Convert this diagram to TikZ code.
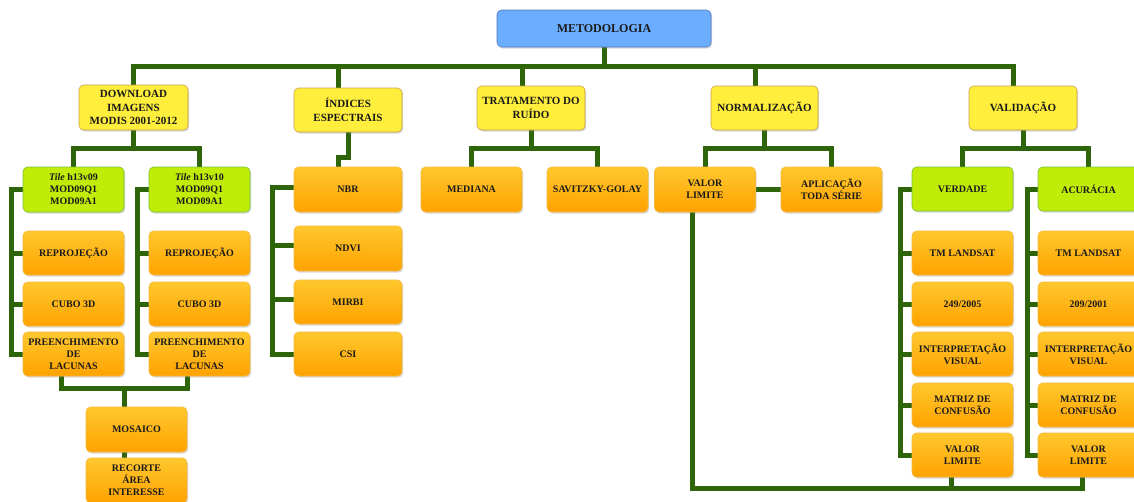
\documentclass[tikz,border=0pt]{standalone}
\usepackage{fontspec}
\setmainfont{Liberation Serif}
\usetikzlibrary{shadows,calc}
\pgfdeclarelayer{background}
\pgfsetlayers{background,main}
\definecolor{lnkc}{HTML}{2E640A}
\definecolor{txt}{HTML}{1A1A1A}
\definecolor{orat}{HTML}{FFC82E}
\definecolor{orabot}{HTML}{FFA200}
\definecolor{orab}{HTML}{F4BA40}
\definecolor{yelf}{HTML}{FFEE3B}
\definecolor{yelb}{HTML}{C8A050}
\definecolor{bluf}{HTML}{6BAEFF}
\definecolor{blub}{HTML}{5577BB}
\definecolor{grnf}{HTML}{C0EC08}
\definecolor{grnb}{HTML}{7BBF3A}
\tikzset{
 bx/.style={rounded corners=4.5pt, align=center, inner sep=1pt, text=txt,
   font=\bfseries\fontsize{10}{12}\selectfont,
   drop shadow={shadow xshift=1.2pt,shadow yshift=-1.5pt,opacity=0.3}},
 ora/.style={bx, draw=orab, line width=0.6pt, top color=orat, bottom color=orabot,
   minimum width=101pt, minimum height=45pt},
 grn/.style={bx, draw=grnb, line width=0.6pt, fill=grnf, minimum width=101pt, minimum height=45pt},
 yel/.style={bx, draw=yelb, line width=0.6pt, fill=yelf, minimum width=108pt, minimum height=44pt,
   font=\bfseries\fontsize{11}{13.5}\selectfont},
 blu/.style={bx, draw=blub, line width=0.6pt, fill=bluf, minimum width=214pt, minimum height=37pt,
   font=\bfseries\fontsize{12}{14}\selectfont},
 lnk/.style={draw=lnkc, line width=5pt},
}
\begin{document}
\begin{tikzpicture}[x=1pt,y=-1pt]
\useasboundingbox (0,0) rectangle (1134,501);
% level 0/1
\node[blu] (meto) at (604,28.5) {METODOLOGIA};
\node[yel, minimum width=109pt, minimum height=45pt] (dl) at (133.5,107.5) {DOWNLOAD\\IMAGENS\\MODIS 2001-2012};
\node[yel] (ind) at (348,110) {ÍNDICES\\ESPECTRAIS};
\node[yel] (trat) at (531,108) {TRATAMENTO DO\\RUÍDO};
\node[yel, minimum width=107pt] (norm) at (764.5,108) {NORMALIZAÇÃO};
\node[yel] (val) at (1023,108) {VALIDAÇÃO};
% download column
\node[grn] (t1) at (73.5,189.5) {\textit{Tile} h13v09\\MOD09Q1\\MOD09A1};
\node[grn] (t2) at (199.5,189.5) {\textit{Tile} h13v10\\MOD09Q1\\MOD09A1};
\node[ora, minimum height=44pt] (r1) at (73.5,253) {REPROJEÇÃO};
\node[ora, minimum height=44pt] (c1) at (73.5,304) {CUBO 3D};
\node[ora, minimum height=44pt] (p1) at (73.5,354) {PREENCHIMENTO\\DE\\LACUNAS};
\node[ora, minimum height=44pt] (r2) at (199.5,253) {REPROJEÇÃO};
\node[ora, minimum height=44pt] (c2) at (199.5,304) {CUBO 3D};
\node[ora, minimum height=44pt] (p2) at (199.5,354) {PREENCHIMENTO\\DE\\LACUNAS};
\node[ora] (mos) at (136.5,429.5) {MOSAICO};
\node[ora] (rec) at (136.5,480.5) {RECORTE\\ÁREA\\INTERESSE};
% indices
\node[ora, minimum width=108pt] (nbr) at (348,189.5) {NBR};
\node[ora, minimum width=108pt] (ndvi) at (348,248.5) {NDVI};
\node[ora, minimum width=108pt, minimum height=44pt] (mirbi) at (348,302) {MIRBI};
\node[ora, minimum width=108pt, minimum height=44pt] (csi) at (348,354) {CSI};
% tratamento
\node[ora] (med) at (471.5,189.5) {MEDIANA};
\node[ora] (sav) at (597.5,189.5) {SAVITZKY-GOLAY};
% normalizacao
\node[ora] (vl) at (705,189.5) {VALOR\\LIMITE};
\node[ora] (apl) at (831.5,189.5) {APLICAÇÃO\\TODA SÉRIE};
% validacao
\node[grn, minimum height=44pt] (ver) at (962.5,189) {VERDADE};
\node[grn, minimum height=44pt] (acu) at (1088.5,189) {ACURÁCIA};
\node[ora, minimum height=44pt] (tm1) at (962.5,253) {TM LANDSAT};
\node[ora, minimum height=44pt] (d1) at (962.5,304) {249/2005};
\node[ora, minimum height=44pt] (iv1) at (962.5,354) {INTERPRETAÇÃO\\VISUAL};
\node[ora, minimum height=44pt] (mc1) at (962.5,405) {MATRIZ DE\\CONFUSÃO};
\node[ora, minimum height=44pt] (vl1) at (962.5,455) {VALOR\\LIMITE};
\node[ora, minimum height=44pt] (tm2) at (1088.5,253) {TM LANDSAT};
\node[ora, minimum height=44pt] (d2) at (1088.5,304) {209/2001};
\node[ora, minimum height=44pt] (iv2) at (1088.5,354) {INTERPRETAÇÃO\\VISUAL};
\node[ora, minimum height=44pt] (mc2) at (1088.5,405) {MATRIZ DE\\CONFUSÃO};
\node[ora, minimum height=44pt] (vl2) at (1088.5,455) {VALOR\\LIMITE};

\begin{pgfonlayer}{background}
\fill[white] (0,0) rectangle (1134,501);
% top bus
\coordinate (yb) at (0,66);
\coordinate (indin) at ($(ind.north)+(-10,0)$);
\coordinate (tratin) at ($(trat.north)+(-9,0)$);
\coordinate (normin) at ($(norm.north)+(-9.5,0)$);
\coordinate (valin) at ($(val.north)+(-10,0)$);
\draw[lnk] (meto.south) -- (meto.south |- yb);
\draw[lnk] (dl.north) -- (dl.north |- yb) -- (valin |- yb) -- (valin);
\draw[lnk] (indin |- yb) -- (indin);
\draw[lnk] (tratin |- yb) -- (tratin);
\draw[lnk] (normin |- yb) -- (normin);
% second-level buses
\coordinate (y2) at (0,148);
\draw[lnk] (dl.south) -- (dl.south |- y2);
\draw[lnk] (t1.north) -- (t1.north |- y2) -- (t2.north |- y2) -- (t2.north);
\draw[lnk] (trat.south) -- (trat.south |- y2);
\draw[lnk] (med.north) -- (med.north |- y2) -- (sav.north |- y2) -- (sav.north);
\draw[lnk] (norm.south) -- (norm.south |- y2);
\draw[lnk] (vl.north) -- (vl.north |- y2) -- (apl.north |- y2) -- (apl.north);
\draw[lnk] (val.south) -- (val.south |- y2);
\draw[lnk] (ver.north) -- (ver.north |- y2) -- (acu.north |- y2) -- (acu.north);
% indices jog
\coordinate (nbrin) at ($(nbr.north)+(-10,0)$);
\draw[lnk] (ind.south) -- ++(0,25) -| (nbrin);
% brackets
\coordinate (bx1) at (11,0);
\draw[lnk] (t1.west) -- (t1.west -| bx1) -- (p1.west -| bx1) -- (p1.west);
\draw[lnk] (r1.west -| bx1) -- (r1.west);
\draw[lnk] (c1.west -| bx1) -- (c1.west);
\coordinate (bx2) at (137,0);
\draw[lnk] (t2.west) -- (t2.west -| bx2) -- (p2.west -| bx2) -- (p2.west);
\draw[lnk] (r2.west -| bx2) -- (r2.west);
\draw[lnk] (c2.west -| bx2) -- (c2.west);
\coordinate (bx3) at (272,0);
\draw[lnk] ([yshift=2pt]nbr.west) -- ([yshift=2pt]nbr.west -| bx3) -- (csi.west -| bx3) -- (csi.west);
\draw[lnk] ([yshift=3pt]ndvi.west -| bx3) -- ([yshift=3pt]ndvi.west);
\draw[lnk] ([yshift=3pt]mirbi.west -| bx3) -- ([yshift=3pt]mirbi.west);
\coordinate (bx4) at (900,0);
\draw[lnk] (ver.west) -- (ver.west -| bx4) -- (vl1.west -| bx4) -- (vl1.west);
\foreach \n in {tm1,d1,iv1,mc1} \draw[lnk] (\n.west -| bx4) -- (\n.west);
\coordinate (bx5) at (1027,0);
\draw[lnk] (acu.west) -- (acu.west -| bx5) -- (vl2.west -| bx5) -- (vl2.west);
\foreach \n in {tm2,d2,iv2,mc2} \draw[lnk] (\n.west -| bx5) -- (\n.west);
% mosaic
\coordinate (y3) at (0,388);
\coordinate (p1out) at ($(p1.south)+(-12.5,0)$);
\coordinate (p2out) at ($(p2.south)+(-12.5,0)$);
\coordinate (mosin) at ($(mos.north)+(-12.5,0)$);
\draw[lnk] (p1out) -- (p1out |- y3) -- (p2out |- y3) -- (p2out);
\draw[lnk] (mosin |- y3) -- (mosin);
\draw[lnk] (mos.south -| mosin) -- (rec.north -| mosin);
% normalizacao links
\draw[lnk] (vl.east) -- (apl.west);
\coordinate (y4) at (0,488);
\coordinate (vlout) at ($(vl.south)+(-13,0)$);
\coordinate (vl1out) at ($(vl1.south)+(-11.5,0)$);
\coordinate (vl2out) at ($(vl2.south)+(-6.5,0)$);
\draw[lnk] (vlout) -- (vlout |- y4) -- (vl2out |- y4) -- (vl2out);
\draw[lnk] (vl1out) -- (vl1out |- y4);
\end{pgfonlayer}
\end{tikzpicture}
\end{document}
